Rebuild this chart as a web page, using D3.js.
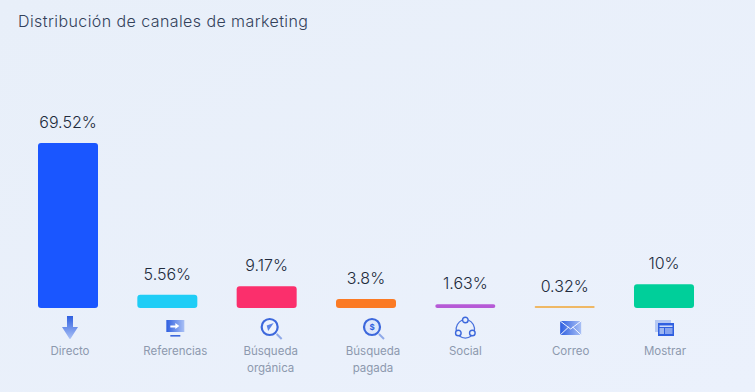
<!DOCTYPE html>
<meta charset="utf-8">
<style>

html, body {
  margin: 0;
  padding: 0;
  background: #e9f0fb;
}

svg {
  display: block;
}

text {
  font-family: Inter, "Noto Sans", sans-serif;
}

</style>
<body>
<script src="https://d3js.org/d3.v7.js"></script>
<script>

var categories = ["Directo", "Referencias", "Búsqueda orgánica", "Búsqueda pagada", "Social", "Correo", "Mostrar"];

var values = [69.52, 5.56, 9.17, 3.8, 1.63, 0.32, 10];

var valueLabels = ["69.52%", "5.56%", "9.17%", "3.8%", "1.63%", "0.32%", "10%"];

var barColors = ["#1a56ff", "#1fcdf6", "#fb2f6c", "#fb7a24", "#b65ad6", "#efb865", "#00cf9a"];

var title = "Distribución de canales de marketing";

var width = 755;

var height = 392;

var baseline = 308;

// labels and icons sit a little off the bar centre in the original
var labelShift = [2, 8, 4, 7, 0, 6, 1];

var xScale = d3.scaleBand()
    .domain(categories)
    .range([38, 694])
    .paddingInner(0.396)
    .paddingOuter(0);

var yScale = d3.scaleLinear()
    .domain([0, 69.52])
    .range([baseline, 143]);

var svg = d3.select("body").append("svg")
    .attr("width", width)
    .attr("height", height);

var defs = svg.append("defs");

var bg = defs.append("linearGradient")
    .attr("id", "bg")
    .attr("x1", 0).attr("y1", 0)
    .attr("x2", 1).attr("y2", 1);
bg.append("stop").attr("offset", "0%").attr("stop-color", "#e8eff9");
bg.append("stop").attr("offset", "100%").attr("stop-color", "#ebf1fc");

var iconGrad = defs.append("linearGradient")
    .attr("id", "iconGrad")
    .attr("x1", 0).attr("y1", 0)
    .attr("x2", 0).attr("y2", 1);
iconGrad.append("stop").attr("offset", "0%").attr("stop-color", "#2f5fe0");
iconGrad.append("stop").attr("offset", "100%").attr("stop-color", "#a9c0f5");

var iconGradH = defs.append("linearGradient")
    .attr("id", "iconGradH")
    .attr("x1", 0).attr("y1", 0)
    .attr("x2", 1).attr("y2", 0);
iconGradH.append("stop").attr("offset", "0%").attr("stop-color", "#2f5fe0");
iconGradH.append("stop").attr("offset", "100%").attr("stop-color", "#a9c0f5");

svg.append("rect")
    .attr("width", width)
    .attr("height", height)
    .attr("fill", "url(#bg)");

svg.append("text")
    .attr("x", 18)
    .attr("y", 27)
    .attr("font-size", 16)
    .attr("font-weight", 300)
    .attr("textLength", 290)
    .attr("fill", "#33415a")
    .text(title);

var rows = categories.map((name, i) => ({name: name, value: values[i], label: valueLabels[i], color: barColors[i], shift: labelShift[i]}));

// bars: the thinnest ones still need to show up as a hairline
svg.selectAll(".bar")
    .data(rows)
  .enter().append("rect")
    .attr("class", "bar")
    .attr("x", d => xScale(d.name))
    .attr("y", d => Math.min(yScale(d.value), baseline - 2))
    .attr("width", xScale.bandwidth())
    .attr("height", d => Math.max(baseline - yScale(d.value), 2))
    .attr("rx", d => Math.min(3, Math.max(baseline - yScale(d.value), 2) / 2))
    .attr("fill", d => d.color);

svg.selectAll(".value")
    .data(rows)
  .enter().append("text")
    .attr("class", "value")
    .attr("x", d => xScale(d.name) + xScale.bandwidth() / 2)
    .attr("y", d => yScale(d.value) - 15)
    .attr("text-anchor", "middle")
    .attr("font-size", 16)
    .attr("font-weight", 300)
    .attr("fill", "#222b3c")
    .text(d => d.label);

var labels = svg.selectAll(".label")
    .data(rows)
  .enter().append("text")
    .attr("class", "label")
    .attr("x", d => xScale(d.name) + xScale.bandwidth() / 2 + d.shift)
    .attr("y", 355)
    .attr("text-anchor", "middle")
    .attr("font-size", 11.5)
    .attr("fill", "#8d99ae");

labels.each(function(d) {
  var parts = d.name.split(" ");
  d3.select(this).selectAll("tspan")
      .data(parts)
    .enter().append("tspan")
      .attr("x", d3.select(this).attr("x"))
      .attr("dy", (p, i) => i ? 16.5 : 0)
      .text(p => p);
});

// small hand drawn icons, in coordinates around their own centre
var icons = [
  function(g) {
    g.append("path")
        .attr("d", "M-3,-12H3V-1H8L1,10Q0,12 -1,10L-8,-1H-3Z")
        .attr("fill", "url(#iconGrad)");
  },
  function(g) {
    g.append("rect").attr("x", -9).attr("y", -8).attr("width", 18).attr("height", 12).attr("fill", "url(#iconGradH)");
    g.append("path").attr("d", "M-5,-2.5H0V-5L4,-2L0,1V-.5H-5Z").attr("fill", "#fff");
    g.append("rect").attr("x", -5).attr("y", 7).attr("width", 10).attr("height", 1.6).attr("fill", "#3d68dc");
  },
  function(g) {
    g.append("circle").attr("cx", -1).attr("cy", -1).attr("r", 8).attr("fill", "#eef3fd").attr("stroke", "#3d68dc").attr("stroke-width", 2.2);
    g.append("path").attr("d", "M6,6L11,11").attr("stroke", "#8fa9e8").attr("stroke-width", 2);
    g.append("path").attr("d", "M3,-5L-4,-2.5L-2.5,3Z").attr("fill", "#5c83e6");
  },
  function(g) {
    g.append("circle").attr("cx", -1).attr("cy", -1).attr("r", 8).attr("fill", "#dfe8fb").attr("stroke", "#3d68dc").attr("stroke-width", 2.2);
    g.append("path").attr("d", "M6,6L11,11").attr("stroke", "#8fa9e8").attr("stroke-width", 2);
    g.append("text").attr("x", -1).attr("y", 2).attr("text-anchor", "middle").attr("font-size", 8).attr("font-weight", 700).attr("fill", "#2f5fe0").text("$");
  },
  function(g) {
    g.append("path")
        .attr("d", "M-3,-8A10,10 0 0 0 -9,3M-6,8A10,10 0 0 0 6,8M3,-8A10,10 0 0 1 9,3")
        .attr("fill", "none").attr("stroke", "#4a72dd").attr("stroke-width", 1.3);
    g.selectAll("circle")
        .data([[0, -8], [-7, 5], [7, 5]])
      .enter().append("circle")
        .attr("cx", c => c[0])
        .attr("cy", c => c[1])
        .attr("r", 2.8)
        .attr("fill", "#e9f0fb")
        .attr("stroke", "#3d68dc")
        .attr("stroke-width", 1.4);
  },
  function(g) {
    g.append("rect").attr("x", -10.5).attr("y", -7).attr("width", 21).attr("height", 14).attr("fill", "url(#iconGradH)");
    g.append("path").attr("d", "M-10.5,-7L0,1L10.5,-7M-10.5,7L-2,-1M10.5,7L2,-1").attr("fill", "none").attr("stroke", "#f2f6ff").attr("stroke-width", 1);
  },
  function(g) {
    g.append("rect").attr("x", -10).attr("y", -8).attr("width", 16).attr("height", 12).attr("fill", "#b5c8f3");
    g.append("rect").attr("x", -7).attr("y", -5).attr("width", 16).attr("height", 13).attr("fill", "#2f5fe0");
    g.append("rect").attr("x", -5.5).attr("y", -2.5).attr("width", 13).attr("height", 1.4).attr("fill", "#dfe8fb");
    g.append("rect").attr("x", -5.5).attr("y", 0).attr("width", 4.5).attr("height", 6).attr("fill", "#9db6f0");
    g.append("path").attr("d", "M0,1H7.5M0,3H7.5M0,5H7.5").attr("stroke", "#dfe8fb").attr("stroke-width", 1);
  }
];

svg.selectAll(".icon")
    .data(rows)
  .enter().append("g")
    .attr("class", "icon")
    .attr("transform", d => `translate(${xScale(d.name) + xScale.bandwidth() / 2 + d.shift}, 328)`)
    .each(function(d, i) { icons[i](d3.select(this)); });

</script>
